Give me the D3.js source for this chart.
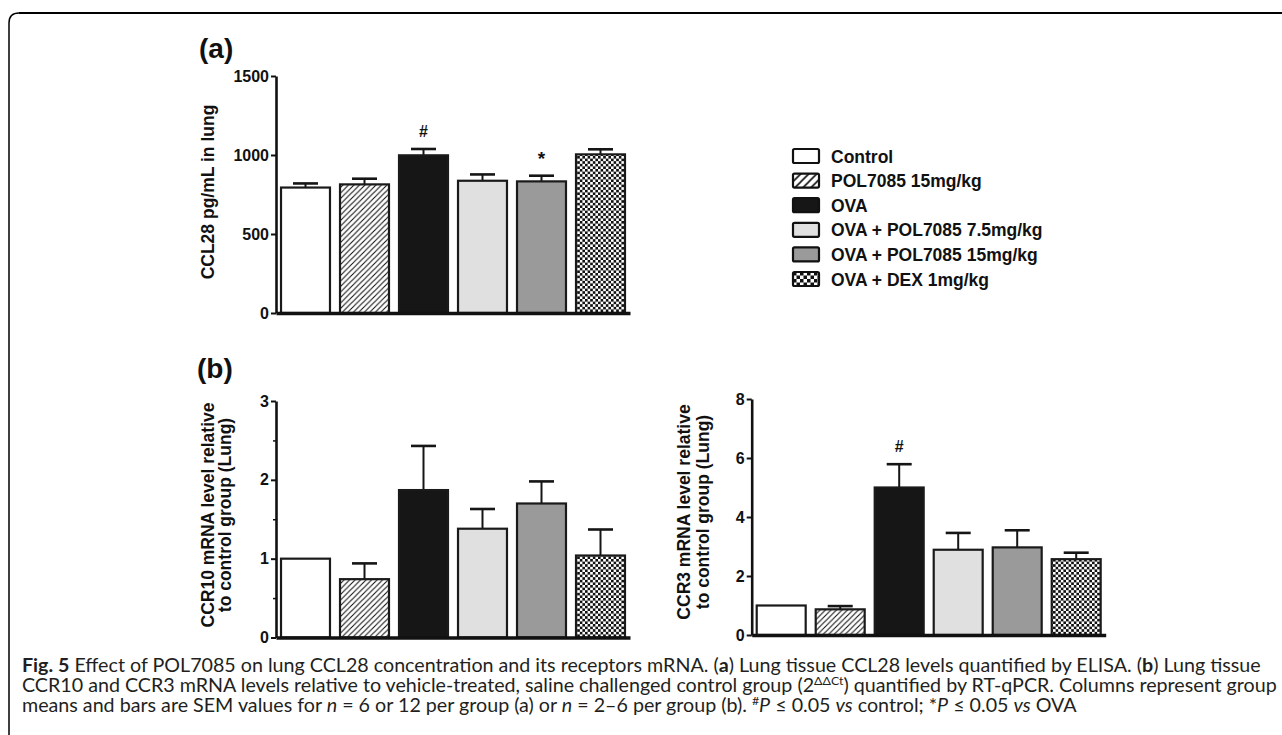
<!DOCTYPE html>
<html>
<head>
<meta charset="utf-8">
<script src="https://cdn.jsdelivr.net/npm/d3@7"></script>
<style>
  html, body { margin: 0; padding: 0; background: #fff; }
</style>
</head>
<body>
<div id="chart"></div>
<script>
"use strict";

// groups shared by all three panels
const groups = [
  "Control",
  "POL7085 15mg/kg",
  "OVA",
  "OVA + POL7085 7.5mg/kg",
  "OVA + POL7085 15mg/kg",
  "OVA + DEX 1mg/kg"
];
const fills = ["#ffffff", "url(#hatch)", "#161616", "#e0e0e0", "#9a9a9a", "url(#checker)"];
const legendFills = ["#ffffff", "url(#hatchL)", "#161616", "#e0e0e0", "#9a9a9a", "url(#checkerL)"];

// (a) CCL28 pg/mL in lung
const ccl28Mean = [794, 814, 998, 837, 833, 1004];
const ccl28Sem = [26, 36, 40, 40, 36, 32];
const ccl28Marks = ["", "", "#", "", "*", ""];
const ccl28Ticks = [0, 500, 1000, 1500];

// (b) CCR10 mRNA relative to control
const ccr10Mean = [1.0, 0.74, 1.87, 1.38, 1.70, 1.04];
const ccr10Sem = [0, 0.20, 0.56, 0.25, 0.28, 0.33];
const ccr10Ticks = [0, 1, 2, 3];
const ccr10Minor = [0.5, 1.5, 2.5];

// (b) CCR3 mRNA relative to control
const ccr3Mean = [1.0, 0.87, 5.0, 2.89, 2.97, 2.57];
const ccr3Sem = [0, 0.11, 0.79, 0.57, 0.58, 0.22];
const ccr3Marks = ["", "", "#", "", "", ""];
const ccr3Ticks = [0, 2, 4, 6, 8];

// caption, one array per line: [text, style]
const captionLines = [
  [["Fig. 5", "b"], [" Effect of POL7085 on lung CCL28 concentration and its receptors mRNA. (", ""], ["a", "b"],
   [") Lung tissue CCL28 levels quantified by ELISA. (", ""], ["b", "b"], [") Lung tissue", ""]],
  [["CCR10 and CCR3 mRNA levels relative to vehicle-treated, saline challenged control group (2", ""], ["ΔΔCt", "sup"],
   [") quantified by RT-qPCR. Columns represent group", ""]],
  [["means and bars are SEM values for ", ""], ["n", "i"], [" = 6 or 12 per group (a) or ", ""], ["n", "i"],
   [" = 2–6 per group (b). ", ""], ["#", "sup"], ["P", "i"], [" ≤ 0.05 ", ""], ["vs", "i"], [" control; *", ""],
   ["P", "i"], [" ≤ 0.05 ", ""], ["vs", "i"], [" OVA", ""]]
];

const W = 1282, H = 735;
const font = "'Liberation Sans', Arial, sans-serif";

const svg = d3.select("#chart").append("svg")
  .attr("width", W).attr("height", H)
  .attr("viewBox", `0 0 ${W} ${H}`);

// patterns
const defs = svg.append("defs");
const hatch = (id, s, w) => {
  const p = defs.append("pattern").attr("id", id).attr("patternUnits", "userSpaceOnUse")
    .attr("width", s).attr("height", s);
  p.append("rect").attr("width", s).attr("height", s).attr("fill", "#fff");
  p.append("path")
    .attr("d", `M0,${s} L${s},0 M${-s / 2},${s / 2} L${s / 2},${-s / 2} M${s / 2},${s * 1.5} L${s * 1.5},${s / 2}`)
    .attr("stroke", "#111").attr("stroke-width", w);
};
const checker = (id, s) => {
  const p = defs.append("pattern").attr("id", id).attr("patternUnits", "userSpaceOnUse")
    .attr("width", 2 * s).attr("height", 2 * s);
  p.append("rect").attr("width", 2 * s).attr("height", 2 * s).attr("fill", "#fff");
  p.append("rect").attr("width", s).attr("height", s).attr("fill", "#111");
  p.append("rect").attr("x", s).attr("y", s).attr("width", s).attr("height", s).attr("fill", "#111");
};
hatch("hatch", 5.5, 1.1);
hatch("hatchL", 8, 1.6);
checker("checker", 2.6);
checker("checkerL", 3.5);

// frame around the figure
svg.append("path")
  .attr("d", `M9,${H + 2} V23 Q9,13 19,13 H${W + 2}`)
  .attr("fill", "none").attr("stroke", "#000").attr("stroke-width", 1.5);
svg.append("line").attr("x1", 19).attr("x2", W).attr("y1", 13).attr("y2", 13)
  .attr("stroke", "#000").attr("stroke-width", 2.2);

const drawPanel = (cfg) => {
  const g = svg.append("g");
  const x = d3.scaleBand().domain(groups)
    .range([cfg.left, cfg.left + 354])
    .paddingInner(0.17).paddingOuter(0.085);
  const y = d3.scaleLinear().domain(cfg.domain).range([cfg.bottom, cfg.top]);

  // error bars (behind the bars)
  const err = g.append("g").attr("stroke", "#151515");
  cfg.mean.forEach((m, i) => {
    if (!cfg.sem[i]) return;
    const cx = x(groups[i]) + x.bandwidth() / 2;
    err.append("line").attr("x1", cx).attr("x2", cx)
      .attr("y1", y(m)).attr("y2", y(m + cfg.sem[i])).attr("stroke-width", 2);
    err.append("line").attr("x1", cx - 12.5).attr("x2", cx + 12.5)
      .attr("y1", y(m + cfg.sem[i])).attr("y2", y(m + cfg.sem[i])).attr("stroke-width", 2.6);
  });

  g.selectAll(".bar").data(cfg.mean).enter().append("rect")
    .attr("class", "bar")
    .attr("x", (d, i) => x(groups[i]))
    .attr("y", d => y(d))
    .attr("width", x.bandwidth())
    .attr("height", d => y(0) - y(d))
    .attr("fill", (d, i) => fills[i])
    .attr("stroke", "#1a1a1a")
    .attr("stroke-width", 2.2);

  if (cfg.marks) {
    g.selectAll(".mark").data(cfg.mean).enter().append("text")
      .attr("x", (d, i) => x(groups[i]) + x.bandwidth() / 2)
      .attr("y", (d, i) => y(d + cfg.sem[i]) - (cfg.marks[i] === "*" ? 11 : 12))
      .attr("text-anchor", "middle")
      .attr("font-family", font).attr("font-weight", "bold")
      .attr("font-size", (d, i) => cfg.marks[i] === "*" ? 19 : 16)
      .attr("fill", "#111")
      .text((d, i) => cfg.marks[i]);
  }

  // axes
  const yAxis = g.append("g").attr("transform", `translate(${cfg.left},0)`)
    .call(d3.axisLeft(y).tickValues(cfg.ticks).tickSize(5).tickSizeOuter(0).tickPadding(2)
      .tickFormat(d3.format("d")));
  yAxis.select(".domain").attr("stroke", "#111").attr("stroke-width", 2.6);
  yAxis.selectAll(".tick line").attr("stroke", "#111").attr("stroke-width", 2);
  yAxis.selectAll(".tick text").attr("font-family", font).attr("font-weight", "bold")
    .attr("font-size", 16).attr("fill", "#111");
  if (cfg.minor) {
    const m = g.append("g").attr("transform", `translate(${cfg.left},0)`)
      .call(d3.axisLeft(y).tickValues(cfg.minor).tickSize(3).tickFormat(""));
    m.select(".domain").remove();
    m.selectAll(".tick line").attr("stroke", "#111").attr("stroke-width", 1.5);
  }
  const xAxis = g.append("g").attr("transform", `translate(0,${y(0)})`)
    .call(d3.axisBottom(x).tickSize(0).tickSizeOuter(0).tickFormat(""));
  xAxis.select(".domain").attr("stroke", "#111").attr("stroke-width", 3.5);

  // y label
  cfg.label.forEach((t, k) => {
    g.append("text")
      .attr("transform", `translate(${cfg.labelX[k]},${cfg.labelY}) rotate(-90)`)
      .attr("text-anchor", "middle")
      .attr("font-family", font).attr("font-weight", "bold").attr("font-size", 17.5)
      .attr("fill", "#111")
      .text(t);
  });
};

drawPanel({
  left: 276, top: 76, bottom: 313, domain: [0, 1500],
  mean: ccl28Mean, sem: ccl28Sem, marks: ccl28Marks, ticks: ccl28Ticks,
  label: ["CCL28 pg/mL in lung"], labelX: [213.5], labelY: 192
});
drawPanel({
  left: 276, top: 401, bottom: 637.5, domain: [0, 3],
  mean: ccr10Mean, sem: ccr10Sem, ticks: ccr10Ticks, minor: ccr10Minor,
  label: ["CCR10 mRNA level relative", "to control group (Lung)"], labelX: [214, 231], labelY: 515
});
drawPanel({
  left: 751.7, top: 399, bottom: 635, domain: [0, 8],
  mean: ccr3Mean, sem: ccr3Sem, marks: ccr3Marks, ticks: ccr3Ticks,
  label: ["CCR3 mRNA level relative", "to control group (Lung)"], labelX: [690, 709], labelY: 512
});

// panel letters
svg.append("text").attr("x", 199).attr("y", 57.5)
  .attr("font-family", font).attr("font-weight", "bold").attr("font-size", 28).attr("fill", "#111")
  .text("(a)");
svg.append("text").attr("x", 197).attr("y", 377.5)
  .attr("font-family", font).attr("font-weight", "bold").attr("font-size", 28).attr("fill", "#111")
  .text("(b)");

// legend
const legend = svg.append("g").attr("transform", "translate(793,149)");
const rows = legend.selectAll("g").data(groups).enter().append("g")
  .attr("transform", (d, i) => `translate(0,${i * 24.6})`);
rows.append("rect").attr("width", 26).attr("height", 14).attr("rx", 1.5)
  .attr("fill", (d, i) => legendFills[i])
  .attr("stroke", "#111").attr("stroke-width", 2.2);
rows.append("text").attr("x", 38).attr("y", 13.5)
  .attr("font-family", font).attr("font-weight", "bold").attr("font-size", 17.5).attr("fill", "#111")
  .text(d => d);

// caption: each line squeezed by the same factor so line 1 spans the box
const capFont = "Lato, 'Open Sans', sans-serif";
const capBase = [671.7, 691.7, 711.7];
const capTexts = captionLines.map((segs, k) => {
  const g = svg.append("g");
  const t = g.append("text")
    .attr("font-family", capFont).attr("font-size", 19).attr("fill", "#231f20");
  let lift = 0;
  segs.forEach(([s, st]) => {
    const sp = t.append("tspan").text(s);
    if (lift) { sp.attr("dy", lift); lift = 0; }
    if (st === "b") sp.attr("font-weight", "bold");
    if (st === "i") sp.attr("font-style", "italic");
    if (st === "sup") { sp.attr("font-size", 12).attr("dy", -7); lift = 7; }
  });
  return { g, t, k };
});
const squeeze = 1240 / capTexts[0].t.node().getComputedTextLength();
capTexts.forEach(c => {
  c.g.attr("transform", `translate(22,${capBase[c.k]}) scale(${squeeze},1)`);
});
</script>
</body>
</html>
